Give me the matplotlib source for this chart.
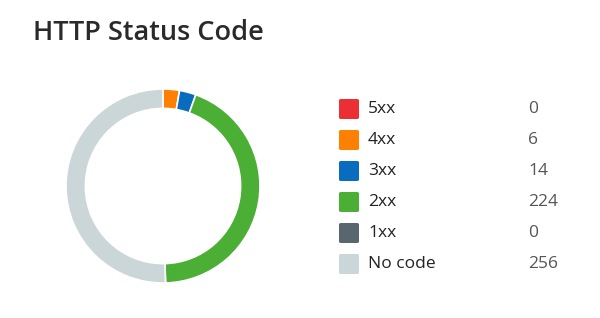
import matplotlib.pyplot as plt
from matplotlib.patches import FancyBboxPatch

# data
labels = ['5xx', '4xx', '3xx', '2xx', '1xx', 'No code']
counts = [0, 6, 14, 224, 0, 256]
colors = ['#ec2f35', '#ff7f00', '#0a6cbf', '#4caf35', '#58666d', '#cbd6d8']

plt.rcParams['font.family'] = ['Open Sans', 'DejaVu Sans']

fig = plt.figure(figsize=(6, 3.18), dpi=100)
W, H = 600, 318

# small non-zero slices get a minimum visible angle (~10 deg), like the original widget
total = sum(counts)
min_part = total * 10 / 360
shown = [max(c, min_part) if c > 0 else 0 for c in counts]

ax = fig.add_axes([66 / W, 1 - 283 / H, 194 / W, 194 / H])
ax.pie(shown, colors=colors, startangle=90, counterclock=False,
       wedgeprops=dict(width=0.2, edgecolor='white', linewidth=1.2))
ax.set_aspect('equal')
ax.set_xlim(-1, 1)
ax.set_ylim(-1, 1)
ax.axis('off')

fig.text(33 / W, 1 - 33 / H, 'HTTP Status Code', fontsize=19.5,
         fontweight='semibold', color='#2a2a2a', va='center', ha='left')

# legend
row_y = [109, 140, 171, 202, 233, 264]
for lab, val, col, yy in zip(labels, counts, colors, row_y):
    sq = FancyBboxPatch((339 / W, 1 - (yy + 10) / H), 20 / W, 20 / H,
                        boxstyle='round,pad=0,rounding_size=0.004',
                        transform=fig.transFigure, facecolor=col,
                        edgecolor='none')
    fig.patches.append(sq)
    fig.text(368 / W, 1 - yy / H, lab, fontsize=12.5, color='#222222',
             va='center', ha='left')
    fig.text(528 / W, 1 - yy / H, str(val), fontsize=12.5, color='#555555',
             va='center', ha='left')

fig.savefig('out.png', dpi=100, facecolor='white')
